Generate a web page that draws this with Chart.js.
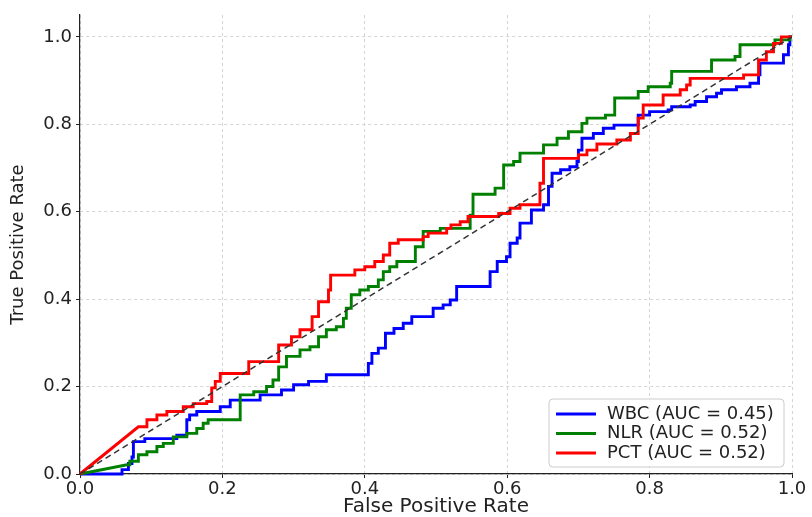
<!DOCTYPE html>
<html>
<head>
<meta charset="utf-8">
<script src="https://cdn.jsdelivr.net/npm/chart.js@4.4.0/dist/chart.umd.min.js"></script>
<style>
html,body{margin:0;padding:0;background:#fff}
#wrap{width:812px;height:517px}
</style>
</head>
<body>
<div id="wrap"><canvas id="roc" width="812" height="517"></canvas></div>
<script>
// ROC curves (fpr / tpr pairs, step corners)
const seriesNames = ["WBC (AUC = 0.45)", "NLR (AUC = 0.52)", "PCT (AUC = 0.52)"]
const seriesColors = ["#0000ff", "#008000", "#ff0000"]
const xTicks = [0, 0.2, 0.4, 0.6, 0.8, 1.0]
const yTicks = [0, 0.2, 0.4, 0.6, 0.8, 1.0]

const wbcFpr = [0, 0.056, 0.059, 0.068, 0.073, 0.075, 0.091, 0.136, 0.150, 0.154, 0.164, 0.197, 0.211, 0.253, 0.283, 0.300, 0.321, 0.346, 0.405, 0.410, 0.419, 0.429, 0.441, 0.454, 0.466, 0.496, 0.510, 0.520, 0.529, 0.576, 0.586, 0.599, 0.604, 0.614, 0.618, 0.634, 0.651, 0.658, 0.663, 0.675, 0.688, 0.698, 0.700, 0.705, 0.721, 0.735, 0.750, 0.784, 0.800, 0.826, 0.831, 0.857, 0.864, 0.880, 0.894, 0.901, 0.922, 0.941, 0.953, 0.955, 0.988, 0.995, 0.997, 1.0]
const wbcTpr = [0, 0, 0.010, 0.024, 0.039, 0.074, 0.081, 0.089, 0.124, 0.135, 0.143, 0.154, 0.169, 0.181, 0.192, 0.204, 0.212, 0.227, 0.253, 0.276, 0.288, 0.322, 0.333, 0.345, 0.360, 0.379, 0.387, 0.398, 0.429, 0.463, 0.486, 0.497, 0.528, 0.540, 0.574, 0.604, 0.616, 0.658, 0.688, 0.696, 0.703, 0.715, 0.741, 0.768, 0.779, 0.791, 0.798, 0.821, 0.829, 0.833, 0.840, 0.844, 0.852, 0.863, 0.871, 0.879, 0.886, 0.894, 0.913, 0.940, 0.959, 0.982, 1.0, 1.0]

const nlrFpr = [0, 0.066, 0.070, 0.082, 0.094, 0.108, 0.117, 0.131, 0.150, 0.164, 0.173, 0.180, 0.225, 0.244, 0.262, 0.271, 0.279, 0.290, 0.309, 0.323, 0.335, 0.346, 0.360, 0.370, 0.374, 0.381, 0.393, 0.405, 0.419, 0.426, 0.435, 0.445, 0.471, 0.482, 0.506, 0.548, 0.552, 0.583, 0.595, 0.609, 0.618, 0.651, 0.670, 0.686, 0.705, 0.712, 0.738, 0.751, 0.784, 0.798, 0.829, 0.831, 0.887, 0.920, 0.927, 0.976, 0.997, 1.0]
const nlrTpr = [0, 0.021, 0.029, 0.044, 0.051, 0.063, 0.070, 0.085, 0.093, 0.104, 0.116, 0.124, 0.181, 0.188, 0.200, 0.215, 0.245, 0.269, 0.284, 0.291, 0.314, 0.330, 0.337, 0.356, 0.379, 0.410, 0.421, 0.429, 0.444, 0.463, 0.474, 0.486, 0.520, 0.555, 0.562, 0.592, 0.640, 0.654, 0.707, 0.715, 0.734, 0.753, 0.768, 0.783, 0.802, 0.814, 0.821, 0.860, 0.875, 0.886, 0.894, 0.921, 0.947, 0.955, 0.982, 0.993, 1.0, 1.0]

const pctFpr = [0, 0.082, 0.094, 0.108, 0.122, 0.145, 0.159, 0.178, 0.185, 0.190, 0.197, 0.237, 0.279, 0.297, 0.309, 0.326, 0.335, 0.349, 0.352, 0.386, 0.400, 0.414, 0.426, 0.435, 0.447, 0.482, 0.489, 0.515, 0.521, 0.534, 0.545, 0.588, 0.604, 0.618, 0.646, 0.651, 0.700, 0.712, 0.726, 0.754, 0.773, 0.784, 0.791, 0.819, 0.843, 0.852, 0.857, 0.932, 0.953, 0.964, 0.974, 0.985, 1.0]
const pctTpr = [0, 0.108, 0.124, 0.135, 0.143, 0.154, 0.161, 0.166, 0.197, 0.212, 0.230, 0.257, 0.295, 0.314, 0.330, 0.360, 0.394, 0.421, 0.455, 0.467, 0.474, 0.486, 0.501, 0.528, 0.536, 0.543, 0.551, 0.562, 0.570, 0.577, 0.589, 0.596, 0.608, 0.616, 0.665, 0.722, 0.730, 0.741, 0.755, 0.764, 0.779, 0.814, 0.844, 0.867, 0.879, 0.890, 0.905, 0.913, 0.947, 0.966, 0.985, 1.0, 1.0]

const FONT = "'DejaVu Sans', sans-serif"

// first segment straight, the rest as right-then-up steps
function rocPoints(fpr, tpr){
  let pts = [{x: fpr[0], y: tpr[0]}, {x: fpr[1], y: tpr[1]}]
  for(let i = 2; i < fpr.length; i++){
    pts.push({x: fpr[i], y: tpr[i-1]})
    pts.push({x: fpr[i], y: tpr[i]})
  }
  return pts
}

const curves = [[wbcFpr, wbcTpr], [nlrFpr, nlrTpr], [pctFpr, pctTpr]]

let datasets = curves.map((c, i) => ({
  label: seriesNames[i],
  data: rocPoints(c[0], c[1]),
  borderColor: seriesColors[i],
  borderWidth: 2.9,
  pointRadius: 0,
  tension: 0,
  fill: false,
  clip: 4,
  order: 3 - i
}))
datasets.push({
  label: "chance",
  data: [{x: 0, y: 0}, {x: 1, y: 1}],
  borderColor: "#333333",
  borderWidth: 1.5,
  borderDash: [6, 4],
  pointRadius: 0,
  fill: false,
  order: 0
})

const boxLegend = {
  id: "boxLegend",
  afterDraw(chart){
    let ctx = chart.ctx
    let x0 = 549, y0 = 399, w = 235, h = 68
    ctx.save()
    ctx.beginPath()
    ctx.roundRect(x0, y0, w, h, 4)
    ctx.fillStyle = "rgba(255,255,255,0.85)"
    ctx.fill()
    ctx.strokeStyle = "#cccccc"
    ctx.lineWidth = 1
    ctx.stroke()
    ctx.font = "18px " + FONT
    ctx.textBaseline = "middle"
    seriesNames.forEach((name, i) => {
      let yy = y0 + 15 + i * 19.5
      ctx.beginPath()
      ctx.moveTo(x0 + 7, yy)
      ctx.lineTo(x0 + 47, yy)
      ctx.strokeStyle = seriesColors[i]
      ctx.lineWidth = 2.9
      ctx.stroke()
      ctx.fillStyle = "#222222"
      ctx.fillText(name, x0 + 58, yy)
    })
    ctx.restore()
  }
}

new Chart("roc", {
  type: "line",
  data: {datasets: datasets},
  options: {
    responsive: false,
    animation: false,
    devicePixelRatio: 1,
    layout: {padding: {top: 15, right: 20, left: 0, bottom: 0}},
    plugins: {legend: {display: false}, tooltip: {enabled: false}},
    scales: {
      x: {
        type: "linear",
        min: 0,
        max: 1,
        afterBuildTicks: s => { s.ticks = xTicks.map(v => ({value: v})) },
        afterFit: s => { s.height = 43 },
        ticks: {
          callback: v => v.toFixed(1),
          font: {family: FONT, size: 18},
          color: "#222222",
          padding: 1,
          maxRotation: 0
        },
        grid: {color: "#d4d4d4", tickLength: 4, tickColor: "#222222"},
        border: {color: "#222222", width: 1.2, dash: [3, 3]},
        title: {
          display: true,
          text: "False Positive Rate",
          font: {family: FONT, size: 20, lineHeight: 1.0},
          color: "#222222",
          padding: {top: 0, bottom: 0}
        }
      },
      y: {
        type: "linear",
        min: 0,
        max: 1.05,
        afterBuildTicks: s => { s.ticks = yTicks.map(v => ({value: v})) },
        afterFit: s => { s.width = 80 },
        ticks: {
          callback: v => v.toFixed(1),
          font: {family: FONT, size: 18},
          color: "#222222",
          padding: 4
        },
        grid: {color: "#d4d4d4", tickLength: 4, tickColor: "#222222"},
        border: {color: "#222222", width: 1.2, dash: [3, 3]},
        title: {
          display: true,
          text: "True Positive Rate",
          font: {family: FONT, size: 18},
          color: "#222222",
          padding: {top: 8, bottom: 0}
        }
      }
    }
  },
  plugins: [boxLegend]
})
</script>
</body>
</html>
